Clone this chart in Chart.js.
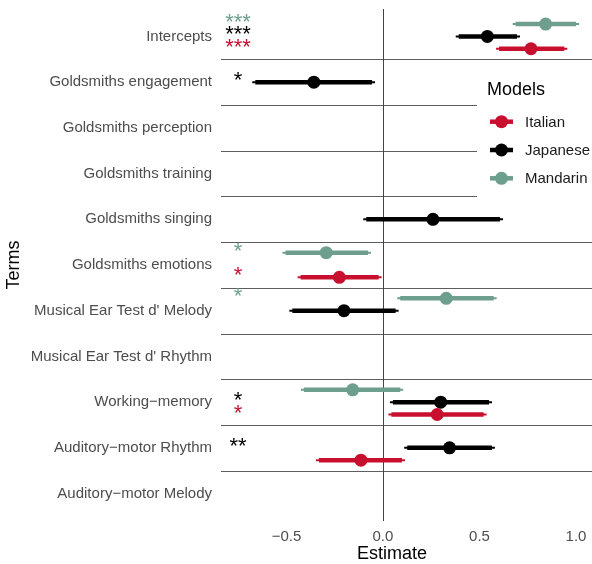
<!DOCTYPE html>
<html>
<head>
<meta charset="utf-8">
<script src="https://cdn.jsdelivr.net/npm/chart.js@4.4.1/dist/chart.umd.min.js"></script>
<style>
  html, body { margin: 0; padding: 0; background: #fff; overflow: hidden; }
  #wrap { width: 592px; height: 564px; position: relative; }
</style>
</head>
<body>
<div id="wrap"><canvas id="forest"></canvas></div>
<script>
// --- data ---
const terms = [
  "Intercepts",
  "Goldsmiths engagement",
  "Goldsmiths perception",
  "Goldsmiths training",
  "Goldsmiths singing",
  "Goldsmiths emotions",
  "Musical Ear Test d' Melody",
  "Musical Ear Test d' Rhythm",
  "Working\u2212memory",
  "Auditory\u2212motor Rhythm",
  "Auditory\u2212motor Melody"
];
const models = ["Italian", "Japanese", "Mandarin"];
const xTicks = [-0.5, 0, 0.5, 1.0];

const italianEst = [0.767, null, null, null, null, -0.226, null, null, 0.281, -0.114, null];
const italianLo  = [0.586, null, null, null, null, -0.442, null, null, 0.028, -0.347, null];
const italianHi  = [0.955, null, null, null, null, -0.007, null, null, 0.537, 0.114, null];
const italianSig = ["***", "", "", "", "", "*", "", "", "*", "", ""];

const japaneseEst = [0.541, -0.358, null, null, 0.259, null, -0.202, null, 0.299, 0.345, null];
const japaneseLo  = [0.377, -0.677, null, null, -0.102, null, -0.485, null, 0.036, 0.110, null];
const japaneseHi  = [0.710, -0.041, null, null, 0.622, null, 0.081, null, 0.565, 0.580, null];
const japaneseSig = ["***", "*", "", "", "", "", "", "", "*", "**", ""];

const mandarinEst = [0.843, null, null, null, null, -0.294, 0.328, null, -0.157, null, null];
const mandarinLo  = [0.672, null, null, null, null, -0.520, 0.074, null, -0.425, null, null];
const mandarinHi  = [1.016, null, null, null, null, -0.062, 0.589, null, 0.105, null, null];
const mandarinSig = ["***", "", "", "", "", "*", "*", "", "", "", ""];

const FONT = "'Liberation Sans', Arial, sans-serif";
const colors = { Italian: "#c8102e", Japanese: "#000000", Mandarin: "#6e9e8d" };
const dodge = { Italian: 0.27, Japanese: 0, Mandarin: -0.27 };
const starX = -0.751;

const series = [
  { name: "Italian", est: italianEst, lo: italianLo, hi: italianHi, sig: italianSig },
  { name: "Japanese", est: japaneseEst, lo: japaneseLo, hi: japaneseHi, sig: japaneseSig },
  { name: "Mandarin", est: mandarinEst, lo: mandarinLo, hi: mandarinHi, sig: mandarinSig }
];

function hline(ctx, x1, x2, y) {
  ctx.beginPath(); ctx.moveTo(x1, y); ctx.lineTo(x2, y); ctx.stroke();
}

const forestPlugin = {
  id: "forest",
  beforeDatasetsDraw(chart) {
    const { ctx, chartArea: a, scales: { x, y } } = chart;
    ctx.save();
    // separators between terms
    ctx.strokeStyle = "#5e5e5e";
    ctx.lineWidth = 1;
    for (let i = 0; i < terms.length - 1; i++) {
      const py = Math.round(y.getPixelForValue(i + 0.5)) + 0.5;
      hline(ctx, a.left, a.right, py);
    }
    // zero line
    const px0 = Math.round(x.getPixelForValue(0)) + 0.5;
    ctx.strokeStyle = "#444";
    ctx.beginPath(); ctx.moveTo(px0, a.top); ctx.lineTo(px0, a.bottom); ctx.stroke();

    // intervals
    ctx.lineCap = "butt";
    series.forEach(s => {
      ctx.strokeStyle = colors[s.name];
      s.est.forEach((v, i) => {
        if (v === null) return;
        const py = y.getPixelForValue(i + dodge[s.name]);
        const x1 = x.getPixelForValue(s.lo[i]);
        const x2 = x.getPixelForValue(s.hi[i]);
        ctx.lineWidth = 2;
        hline(ctx, x1, x2, py);
        ctx.lineWidth = 4.5;
        hline(ctx, x1 + 3, x2 - 3, py);
      });
    });
    ctx.restore();
  },
  afterDatasetsDraw(chart) {
    const { ctx, chartArea: a, scales: { x, y } } = chart;
    ctx.save();
    // significance stars
    ctx.font = "22px " + FONT;
    ctx.textAlign = "center";
    ctx.textBaseline = "middle";
    series.forEach(s => {
      ctx.fillStyle = colors[s.name];
      s.sig.forEach((txt, i) => {
        if (!txt) return;
        ctx.fillText(txt, x.getPixelForValue(starX), y.getPixelForValue(i + dodge[s.name]) - 1);
      });
    });

    // legend
    const lx = a.right - 115, ly = 66;
    ctx.fillStyle = "#fff";
    ctx.fillRect(lx, ly, 115, 138);
    ctx.fillStyle = "#000";
    ctx.textAlign = "left";
    ctx.font = "18px " + FONT;
    ctx.fillText("Models", lx + 10, 90);
    ctx.font = "15px " + FONT;
    models.forEach((m, k) => {
      const yy = 121.7 + k * 28.3;
      ctx.strokeStyle = colors[m];
      ctx.lineWidth = 4.5;
      hline(ctx, lx + 13, lx + 36, yy);
      ctx.fillStyle = colors[m];
      ctx.beginPath(); ctx.arc(lx + 24.5, yy, 6.5, 0, Math.PI * 2); ctx.fill();
      ctx.fillStyle = "#1a1a1a";
      ctx.fillText(m, lx + 48, yy + 1);
    });

    // axis titles
    ctx.fillStyle = "#000";
    ctx.font = "18px " + FONT;
    ctx.textAlign = "center";
    ctx.fillText("Estimate", 392, 554);
    ctx.translate(14, (a.top + a.bottom) / 2);
    ctx.rotate(-Math.PI / 2);
    ctx.fillText("Terms", 0, 0);
    ctx.restore();
  }
};

const datasets = series.map(s => ({
  label: s.name,
  data: s.est.map((v, i) => v === null ? null : { x: v, y: i + dodge[s.name] }).filter(p => p),
  backgroundColor: colors[s.name],
  borderWidth: 0,
  pointRadius: 6.5,
  pointHoverRadius: 6.5
}));

new Chart(document.getElementById("forest"), {
  type: "scatter",
  data: { datasets },
  plugins: [forestPlugin],
  options: {
    responsive: true,
    maintainAspectRatio: false,
    animation: false,
    layout: { autoPadding: false, padding: { top: 9, right: 0, bottom: 0, left: 0 } },
    plugins: { legend: { display: false }, tooltip: { enabled: false } },
    scales: {
      x: {
        type: "linear",
        min: -0.839,
        max: 1.083,
        afterBuildTicks: sc => { sc.ticks = xTicks.map(v => ({ value: v })); },
        afterFit: sc => {
          sc.height = 43;
          sc.paddingLeft = 0; sc.paddingRight = 0;
        },
        grid: { display: false, drawTicks: false },
        border: { display: false },
        ticks: {
          padding: 7,
          color: "#4d4d4d",
          font: { family: FONT, size: 15 },
          maxRotation: 0,
          callback: v => (v < 0 ? "\u2212" : "") + Math.abs(v).toFixed(1)
        }
      },
      y: {
        type: "linear",
        min: -0.6,
        max: terms.length - 0.4,
        reverse: true,
        afterBuildTicks: sc => { sc.ticks = terms.map((t, i) => ({ value: i })); },
        afterFit: sc => {
          sc.width = 221;
          sc.paddingTop = 0; sc.paddingBottom = 0;
        },
        grid: { display: false, drawTicks: false },
        border: { display: false },
        ticks: {
          padding: 9,
          color: "#4d4d4d",
          font: { family: FONT, size: 15 },
          callback: v => terms[v]
        }
      }
    }
  }
});
</script>
</body>
</html>
